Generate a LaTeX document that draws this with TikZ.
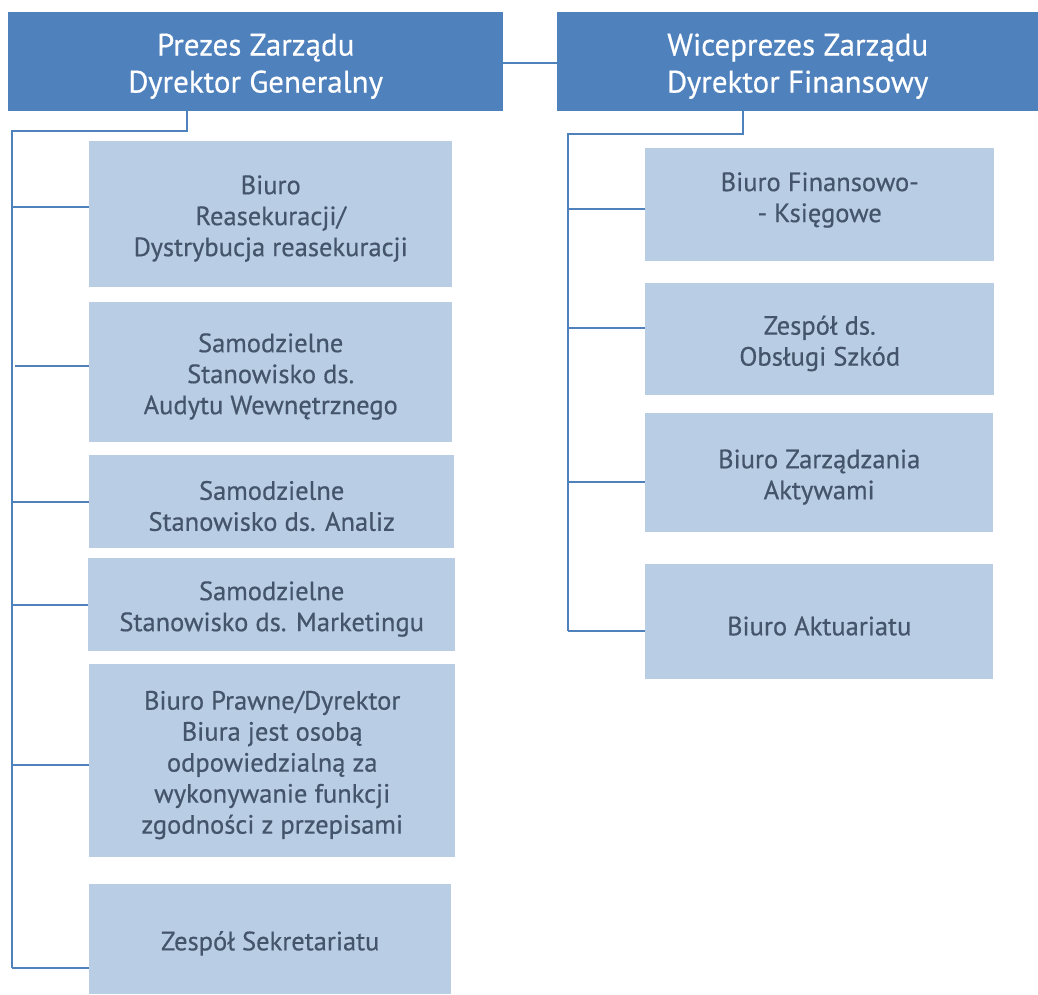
\documentclass[tikz,border=0pt]{standalone}
\usepackage{fontspec}
\setmainfont[FakeBold=0.5]{PT Sans}
\definecolor{topblue}{HTML}{4F81BD}
\definecolor{subblue}{HTML}{B9CDE5}
\definecolor{subtext}{HTML}{44546A}
\definecolor{linkblue}{HTML}{4F81BD}
\newcommand{\topstrut}{\rule{0pt}{31pt}}
\newcommand{\substrut}{\rule{0pt}{27.5pt}}
\tikzset{
  topbox/.style={rectangle, fill=topblue, text=white, inner sep=0pt, anchor=north west, align=center,
    font=\fontsize{31}{37}\selectfont},
  subbox/.style={rectangle, fill=subblue, text=subtext, inner sep=0pt, anchor=north west, align=center,
    font=\fontsize{26.5}{31}\selectfont},
  link/.style={draw=linkblue, line width=1.8pt}
}
\begin{document}
\begin{tikzpicture}[x=1pt,y=-1pt]
\useasboundingbox (0,0) rectangle (1038,994);
% top boxes
\node[topbox, minimum width=495pt, minimum height=99pt] (pz) at (8,12) {\topstrut Prezes Zarządu\\Dyrektor Generalny};
\node[topbox, minimum width=481pt, minimum height=99pt] (wz) at (557,12) {\topstrut Wiceprezes Zarządu\\Dyrektor Finansowy};
% left column
\node[subbox, minimum width=363pt, minimum height=146pt] (l1) at (89,141) {\substrut Biuro\\Reasekuracji/\\Dystrybucja reasekuracji};
\node[subbox, minimum width=363pt, minimum height=140pt] (l2) at (89,302) {\substrut Samodzielne\\Stanowisko ds.\\Audytu Wewnętrznego};
\node[subbox, minimum width=365pt, minimum height=93pt] (l3) at (89,455) {\substrut Samodzielne\\Stanowisko ds. Analiz};
\node[subbox, minimum width=367pt, minimum height=93pt] (l4) at (88,558) {\substrut Samodzielne\\Stanowisko ds. Marketingu};
\node[subbox, minimum width=366pt, minimum height=193pt] (l5) at (89,664) {\substrut Biuro Prawne/Dyrektor\\Biura jest osobą\\odpowiedzialną za\\wykonywanie funkcji\\zgodności z przepisami};
\node[subbox, minimum width=362pt, minimum height=110pt] (l6) at (89,884) {\substrut Zespół Sekretariatu};
% right column
\node[subbox, minimum width=349pt, minimum height=113pt] (r1) at (645,148) {Biuro Finansowo-\\- Księgowe\rule[-15pt]{0pt}{0pt}};
\node[subbox, minimum width=349pt, minimum height=112pt] (r2) at (645,283) {\substrut Zespół ds.\\Obsługi Szkód};
\node[subbox, minimum width=348pt, minimum height=119pt] (r3) at (645,413) {\substrut Biuro Zarządzania\\Aktywami};
\node[subbox, minimum width=348pt, minimum height=115pt] (r4) at (645,564) {\substrut Biuro Aktuariatu};
% connector coordinates
\coordinate (pzdrop) at (187,111);
\coordinate (lbend1) at (187,131);
\coordinate (lbend2) at (12,131);
\coordinate (lbot) at (12,968);
\coordinate (wzdrop) at (743,111);
\coordinate (rbend1) at (743,134);
\coordinate (rbend2) at (568,134);
\coordinate (rbot) at (568,631);
% links
\draw[link] (pz.east |- 0,63) -- (wz.west |- 0,63);
\draw[link] (pzdrop) -- (lbend1) -- (lbend2) -- (lbot);
\draw[link] (wzdrop) -- (rbend1) -- (rbend2) -- (rbot);
\draw[link] (12,207) -- (l1.west |- 0,207);
\draw[link] (15,366) -- (l2.west |- 0,366);
\draw[link] (12,502) -- (l3.west |- 0,502);
\draw[link] (12,605) -- (l4.west |- 0,605);
\draw[link] (12,765) -- (l5.west |- 0,765);
\draw[link] (lbot) -- (l6.west |- lbot);
\draw[link] (568,209) -- (r1.west |- 0,209);
\draw[link] (568,328) -- (r2.west |- 0,328);
\draw[link] (568,482) -- (r3.west |- 0,482);
\draw[link] (rbot) -- (r4.west |- rbot);
\end{tikzpicture}
\end{document}
